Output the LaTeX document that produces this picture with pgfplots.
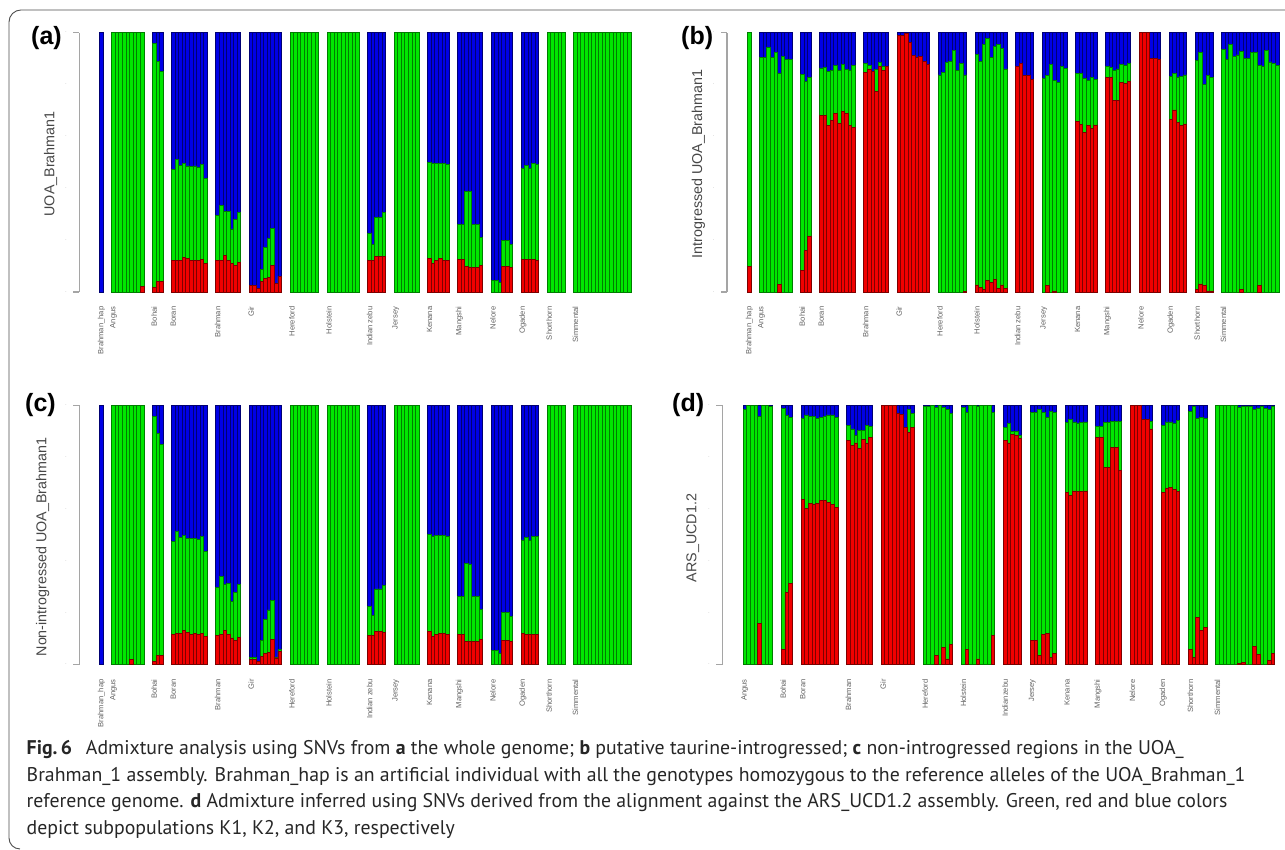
\documentclass[border=0pt]{standalone}
\usepackage{fontspec}
\usepackage{pgfplots}
\usepackage{pgfplotstable}
\pgfplotsset{compat=1.18}
\setmainfont{Liberation Sans}
\newfontfamily\capf{PT Sans}
\definecolor{rd}{RGB}{240,0,0}\definecolor{rdd}{RGB}{125,0,0}
\definecolor{gn}{RGB}{0,230,0}\definecolor{gnd}{RGB}{0,125,0}
\definecolor{bl}{RGB}{0,0,230}\definecolor{bld}{RGB}{0,0,115}
\definecolor{spine}{RGB}{165,165,165}
% each table: grp = group number, r = top of red, g = top of green (blue fills up to 1)
\pgfplotstableread[row sep=\\]{grp r g \\
0 0 0 \\
1 0 1 \\ 1 0 1 \\ 1 0 1 \\ 1 0 1 \\ 1 0 1 \\ 1 0 1 \\ 1 0 1 \\ 1 0 1 \\ 1 .02 1 \\
2 .018 .96 \\ 2 .04 .89 \\ 2 .04 .85 \\
3 .12 .474 \\ 3 .123 .51 \\ 3 .123 .488 \\ 3 .134 .494 \\ 3 .128 .486 \\ 3 .123 .484 \\ 3 .122 .486 \\ 3 .123 .482 \\ 3 .126 .492 \\ 3 .11 .436 \\
4 .12 .294 \\ 4 .123 .335 \\ 4 .139 .31 \\ 4 .123 .311 \\ 4 .11 .243 \\ 4 .104 .278 \\ 4 .114 .306 \\
5 .026 .026 \\ 5 .026 .026 \\ 5 .015 .015 \\ 5 .04 .087 \\ 5 .053 .172 \\ 5 .057 .208 \\ 5 .103 .244 \\ 5 .033 .033 \\ 5 .06 .06 \\
6 0 1 \\ 6 0 1 \\ 6 0 1 \\ 6 0 1 \\ 6 0 1 \\ 6 0 1 \\ 6 0 1 \\ 6 0 1 \\
7 0 1 \\ 7 0 1 \\ 7 0 1 \\ 7 0 1 \\ 7 0 1 \\ 7 0 1 \\ 7 0 1 \\ 7 0 1 \\ 7 0 1 \\
8 .122 .225 \\ 8 .122 .185 \\ 8 .138 .289 \\ 8 .138 .289 \\ 8 .138 .306 \\
9 0 1 \\ 9 0 1 \\ 9 0 1 \\ 9 0 1 \\ 9 0 1 \\ 9 0 1 \\ 9 0 1 \\
10 .131 .499 \\ 10 .11 .494 \\ 10 .123 .495 \\ 10 .129 .497 \\ 10 .123 .497 \\ 10 .123 .492 \\
11 .125 .261 \\ 11 .125 .261 \\ 11 .098 .388 \\ 11 .096 .386 \\ 11 .096 .262 \\ 11 .096 .262 \\ 11 .103 .212 \\
12 0 .045 \\ 12 0 .045 \\ 12 0 .035 \\ 12 .1 .197 \\ 12 .1 .197 \\ 12 .096 .184 \\
13 .126 .478 \\ 13 .126 .487 \\ 13 .125 .477 \\ 13 .125 .494 \\ 13 .123 .492 \\
14 0 1 \\ 14 0 1 \\ 14 0 1 \\ 14 0 1 \\ 14 0 1 \\
15 0 1 \\ 15 0 1 \\ 15 0 1 \\ 15 0 1 \\ 15 0 1 \\ 15 0 1 \\ 15 0 1 \\ 15 0 1 \\ 15 0 1 \\ 15 0 1 \\ 15 0 1 \\ 15 0 1 \\ 15 0 1 \\ 15 0 1 \\ 15 0 1 \\ 15 0 1 \\
}\tabA
\pgfplotstableread[row sep=\\]{grp r g \\
0 .1 1 \\
1 0 .904 \\ 1 0 .906 \\ 1 0 .943 \\ 1 0 .904 \\ 1 0 .925 \\ 1 .03 .841 \\ 1 0 .907 \\ 1 0 .896 \\ 1 0 .896 \\
2 .082 .838 \\ 2 .159 .812 \\ 2 .216 .829 \\
3 .679 .864 \\ 3 .679 .865 \\ 3 .641 .852 \\ 3 .662 .856 \\ 3 .689 .873 \\ 3 .65 .853 \\ 3 .695 .878 \\ 3 .69 .857 \\ 3 .643 .856 \\ 3 .634 .875 \\
4 .846 .88 \\ 4 .86 .874 \\ 4 .85 .85 \\ 4 .774 .859 \\ 4 .871 .884 \\ 4 .856 .87 \\ 4 .868 .868 \\
5 .99 .99 \\ 5 .991 .991 \\ 5 .997 .997 \\ 5 .964 .964 \\ 5 .911 .911 \\ 5 .904 .904 \\ 5 .91 .91 \\ 5 .888 .888 \\ 5 .879 .879 \\
6 0 .837 \\ 6 0 .848 \\ 6 0 .886 \\ 6 0 .888 \\ 6 0 .933 \\ 6 0 .856 \\ 6 0 .88 \\ 6 .002 .837 \\
7 .027 .916 \\ 7 .018 .888 \\ 7 .008 .956 \\ 7 .045 .977 \\ 7 .035 .905 \\ 7 .049 .946 \\ 7 .014 .956 \\ 7 .027 .94 \\ 7 .015 .86 \\
8 .868 .868 \\ 8 .883 .883 \\ 8 .834 .834 \\ 8 .834 .834 \\ 8 .819 .819 \\
9 0 .823 \\ 9 .026 .835 \\ 9 0 .878 \\ 9 .004 .815 \\ 9 0 .807 \\ 9 0 .868 \\ 9 0 .861 \\
10 .658 .842 \\ 10 .647 .843 \\ 10 .614 .825 \\ 10 .643 .817 \\ 10 .632 .829 \\ 10 .644 .821 \\
11 .829 .869 \\ 11 .828 .866 \\ 11 .737 .855 \\ 11 .739 .86 \\ 11 .808 .879 \\ 11 .805 .875 \\ 11 .812 .883 \\
12 1 1 \\ 12 1 1 \\ 12 1 1 \\ 12 .901 .901 \\ 12 .901 .901 \\ 12 .895 .895 \\
13 .666 .83 \\ 13 .702 .842 \\ 13 .654 .828 \\ 13 .643 .832 \\ 13 .648 .837 \\
14 .008 .892 \\ 14 .031 .923 \\ 14 .026 .802 \\ 14 .004 .834 \\ 14 .004 .828 \\
15 0 .937 \\ 15 0 .895 \\ 15 0 .955 \\ 15 0 .907 \\ 15 0 .914 \\ 15 .008 .929 \\ 15 0 .901 \\ 15 0 .899 \\ 15 0 .922 \\ 15 0 .924 \\ 15 .026 .873 \\ 15 0 .87 \\ 15 0 .931 \\ 15 0 .887 \\ 15 0 .88 \\ 15 0 .873 \\
}\tabB
\pgfplotstableread[row sep=\\]{grp r g \\
0 0 0 \\
1 0 1 \\ 1 0 1 \\ 1 0 1 \\ 1 0 1 \\ 1 0 1 \\ 1 .02 1 \\ 1 0 1 \\ 1 0 1 \\ 1 0 1 \\
2 .014 .959 \\ 2 .036 .891 \\ 2 .036 .851 \\
3 .117 .476 \\ 3 .121 .515 \\ 3 .12 .491 \\ 3 .131 .497 \\ 3 .125 .488 \\ 3 .118 .487 \\ 3 .121 .487 \\ 3 .118 .482 \\ 3 .121 .495 \\ 3 .109 .436 \\
4 .112 .296 \\ 4 .117 .339 \\ 4 .131 .311 \\ 4 .118 .312 \\ 4 .103 .243 \\ 4 .095 .279 \\ 4 .105 .31 \\
5 .021 .028 \\ 5 .021 .028 \\ 5 .013 .013 \\ 5 .033 .093 \\ 5 .044 .175 \\ 5 .048 .211 \\ 5 .096 .248 \\ 5 .026 .028 \\ 5 .051 .057 \\
6 0 1 \\ 6 0 1 \\ 6 0 1 \\ 6 0 1 \\ 6 0 1 \\ 6 0 1 \\ 6 0 1 \\ 6 0 1 \\
7 0 1 \\ 7 0 1 \\ 7 0 1 \\ 7 0 1 \\ 7 0 1 \\ 7 0 1 \\ 7 0 1 \\ 7 0 1 \\ 7 0 1 \\
8 .114 .226 \\ 8 .114 .188 \\ 8 .129 .292 \\ 8 .129 .292 \\ 8 .126 .307 \\
9 0 1 \\ 9 0 1 \\ 9 0 1 \\ 9 0 1 \\ 9 0 1 \\ 9 0 1 \\ 9 0 1 \\
10 .127 .504 \\ 10 .107 .496 \\ 10 .118 .497 \\ 10 .122 .5 \\ 10 .121 .5 \\ 10 .118 .495 \\
11 .118 .263 \\ 11 .118 .263 \\ 11 .091 .391 \\ 11 .09 .388 \\ 11 .089 .263 \\ 11 .089 .263 \\ 11 .096 .213 \\
12 0 .055 \\ 12 0 .055 \\ 12 0 .045 \\ 12 .093 .2 \\ 12 .093 .2 \\ 12 .089 .186 \\
13 .121 .481 \\ 13 .118 .491 \\ 13 .118 .479 \\ 13 .118 .496 \\ 13 .118 .496 \\
14 0 1 \\ 14 0 1 \\ 14 0 1 \\ 14 0 1 \\ 14 0 1 \\
15 0 1 \\ 15 0 1 \\ 15 0 1 \\ 15 0 1 \\ 15 0 1 \\ 15 0 1 \\ 15 0 1 \\ 15 0 1 \\ 15 0 1 \\ 15 0 1 \\ 15 0 1 \\ 15 0 1 \\ 15 0 1 \\ 15 0 1 \\ 15 0 1 \\ 15 0 1 \\
}\tabC
\pgfplotstableread[row sep=\\]{grp r g \\
0 0 .985 \\ 0 0 1 \\ 0 0 1 \\ 0 0 1 \\ 0 .16 .958 \\ 0 0 1 \\ 0 0 1 \\ 0 0 .994 \\
1 .057 .987 \\ 1 .28 .96 \\ 1 .314 .952 \\
2 .636 .951 \\ 2 .602 .963 \\ 2 .622 .958 \\ 2 .618 .956 \\ 2 .623 .951 \\ 2 .632 .952 \\ 2 .635 .958 \\ 2 .627 .963 \\ 2 .618 .963 \\ 2 .607 .954 \\
3 .866 .923 \\ 3 .847 .909 \\ 3 .855 .883 \\ 3 .833 .903 \\ 3 .867 .902 \\ 3 .852 .921 \\ 3 .875 .919 \\
4 1 1 \\ 4 1 1 \\ 4 1 1 \\ 4 1 1 \\ 4 .967 .967 \\ 4 .964 .964 \\ 4 .916 .916 \\ 4 .896 .986 \\ 4 .916 .968 \\
5 0 .997 \\ 5 0 .996 \\ 5 0 1 \\ 5 .035 .992 \\ 5 0 .999 \\ 5 .067 .991 \\ 5 .022 .986 \\ 5 .079 .97 \\
6 0 .993 \\ 6 .057 .974 \\ 6 0 1 \\ 6 0 1 \\ 6 .022 .996 \\ 6 0 1 \\ 6 0 1 \\ 6 0 1 \\ 6 .113 .974 \\
7 .866 .916 \\ 7 .855 .932 \\ 7 .887 .901 \\ 7 .885 .901 \\ 7 .871 .883 \\
8 .095 .972 \\ 8 .095 .972 \\ 8 .037 .983 \\ 8 .117 .972 \\ 8 .121 .955 \\ 8 .028 .978 \\ 8 .044 .974 \\
9 .665 .934 \\ 9 .652 .945 \\ 9 .67 .936 \\ 9 .669 .932 \\ 9 .669 .934 \\ 9 .67 .936 \\
10 .875 .919 \\ 10 .875 .919 \\ 10 .762 .933 \\ 10 .762 .933 \\ 10 .839 .938 \\ 10 .839 .938 \\ 10 .748 .938 \\
11 1 1 \\ 11 1 1 \\ 11 1 1 \\ 11 .946 .946 \\ 11 .946 .946 \\ 11 .909 .938 \\
12 .665 .923 \\ 12 .681 .936 \\ 12 .685 .936 \\ 12 .674 .929 \\ 12 .668 .943 \\
13 .06 .977 \\ 13 .027 .995 \\ 13 .181 .949 \\ 13 .131 .952 \\ 13 .144 .951 \\
14 0 1 \\ 14 0 1 \\ 14 0 1 \\ 14 0 1 \\ 14 0 1 \\ 14 0 1 \\ 14 .005 .991 \\ 14 .01 .994 \\ 14 0 .997 \\ 14 0 .997 \\ 14 .072 .983 \\ 14 .041 .99 \\ 14 0 .997 \\ 14 0 .987 \\ 14 .015 .986 \\ 14 .045 .994 \\
}\tabD
\pgfplotsset{adm/.style={
  scale only axis, y=259.3pt, ymin=0, ymax=1, clip=false,
  axis y line*=left, axis x line*=bottom,
  x axis line style={draw=none},
  y axis line style={draw=spine,line width=1.1pt},
  xtick style={draw=none}, ytick style={draw=none},
  tick align=outside, major tick length=0pt,
  xticklabel style={rotate=90,anchor=east,inner sep=0pt,xshift=-14.5pt,font=\fontsize{7.6}{8}\selectfont,text=black!62},
  ytick={0,.2,.4,.6,.8,1},
  yticklabels={$\cdot$,$\cdot$,$\cdot$,$\cdot$,$\cdot$,$\cdot$},
  yticklabel style={inner sep=0pt,xshift=-12pt,text=black!55,font=\tiny},
  extra y ticks={0,1}, extra y tick labels={},
  extra y tick style={major tick length=6pt,ytick style={draw=spine,line width=1.1pt}},
  every axis plot/.append style={ybar,bar width=1,bar shift=0pt,line width=.9pt},
}}
\newcommand\bars[2]{%
  \addplot[fill=bl,draw=none] table[x expr=\coordindex+#2*\thisrow{grp},y expr=1] {#1};
  \addplot[fill=none,draw=bld] table[x expr=\coordindex+#2*\thisrow{grp},y expr=1] {#1};
  \addplot[fill=gn,draw=none,restrict y to domain=0.001:2] table[x expr=\coordindex+#2*\thisrow{grp},y=g] {#1};
  \addplot[fill=none,draw=gnd,restrict y to domain=0.001:2] table[x expr=\coordindex+#2*\thisrow{grp},y=g] {#1};
  \addplot[fill=rd,draw=none,restrict y to domain=0.001:2] table[x expr=\coordindex+#2*\thisrow{grp},y=r] {#1};
  \addplot[fill=none,draw=rdd,restrict y to domain=0.001:2] table[x expr=\coordindex+#2*\thisrow{grp},y=r] {#1};
}
\begin{document}
\begin{tikzpicture}[x=1pt,y=1pt]
\path[use as bounding box] (0,0) rectangle (1285,850);
\draw[black!70,line width=.9pt] (1285,840) -- (21,840) arc[start angle=90,end angle=180,radius=12] -- (9,12) arc[start angle=180,end angle=270,radius=11] ;
\begin{axis}[adm,at={(79.3pt,558pt)},anchor=south west,x=3.58pt,xmin=-6.2,xmax=147.9,xtick={0,3.36,14.72,20.08,32.44,41.8,53.16,63.52,74.88,82.24,91.6,99.96,109.32,117.68,125.04,132.4},xticklabels={Brahman\_hap,Angus,Bohai,Boran,Brahman,Gir,Hereford,Holstein,Indian zebu,Jersey,Kenana,Mangshi,Nelore,Ogaden,Shorthorn,Simmental}]
\bars{\tabA}{2.36}
\end{axis}
\begin{axis}[adm,at={(727pt,558pt)},anchor=south west,x=3.58pt,xmin=-6.28,xmax=147.9,xtick={0,3.36,14.72,20.08,32.44,41.8,53.16,63.52,74.88,82.24,91.6,99.96,109.32,117.68,125.04,132.4},xticklabels={Brahman\_hap,Angus,Bohai,Boran,Brahman,Gir,Hereford,Holstein,Indian zebu,Jersey,Kenana,Mangshi,Nelore,Ogaden,Shorthorn,Simmental}]
\bars{\tabB}{2.36}
\end{axis}
\begin{axis}[adm,at={(79.3pt,185.3pt)},anchor=south west,x=3.58pt,xmin=-6.2,xmax=147.9,xtick={0,3.36,14.72,20.08,32.44,41.8,53.16,63.52,74.88,82.24,91.6,99.96,109.32,117.68,125.04,132.4},xticklabels={Brahman\_hap,Angus,Bohai,Boran,Brahman,Gir,Hereford,Holstein,Indian zebu,Jersey,Kenana,Mangshi,Nelore,Ogaden,Shorthorn,Simmental}]
\bars{\tabC}{2.36}
\end{axis}
\begin{axis}[adm,at={(722.3pt,185.3pt)},anchor=south west,x=3.7pt,xmin=-6.1,xmax=143.23,
 xtick={0,10.34,15.68,28.01,37.35,48.69,59.03,70.37,77.7,87.04,95.38,104.72,113.06,120.39,127.73},
 xticklabels={Angus,Bohai,Boran,Brahman,Gir,Hereford,Holstein,Indianzebu,Jersey,Kenana,Mangshi,Nelore,Ogaden,Shorthorn,Simmental}]
\bars{\tabD}{2.338}
\end{axis}
\tikzset{yl/.style={rotate=90,text=black!72,font=\fontsize{14.3}{16}\selectfont,inner sep=0pt},
 pl/.style={font=\fontsize{25}{28}\selectfont\bfseries,text=black,inner sep=0pt,anchor=west},
 cp/.style={anchor=base west,inner sep=0pt,text=black!85,font=\capf\fontsize{19.8}{22}\selectfont}}
\node[yl] at (50.5,686) {UOA\_Brahman1};
\node[yl] at (698.3,686) {Introgressed UOA\_Brahman1};
\node[yl] at (42.7,303) {Non-introgressed UOA\_Brahman1};
\node[yl] at (692.7,312) {ARS\_UCD1.2};
\node[pl] at (31,812) {(a)};
\node[pl] at (681,812) {(b)};
\node[pl] at (25,445) {(c)};
\node[pl] at (672,445) {(d)};
\node[cp] at (26.5,95) {\textbf{Fig.\,6}\hspace{.7em}Admixture analysis using SNVs from \textbf{a} the whole genome; \textbf{b} putative taurine-introgressed; \textbf{c} non-introgressed regions in the UOA\_};
\node[cp] at (26.5,68.3) {Brahman\_1 assembly. Brahman\_hap is an artificial individual with all the genotypes homozygous to the reference alleles of the UOA\_Brahman\_1};
\node[cp] at (26.5,42) {reference genome. \textbf{d} Admixture inferred using SNVs derived from the alignment against the ARS\_UCD1.2 assembly. Green, red and blue colors};
\node[cp] at (26.5,15.5) {depict subpopulations K1, K2, and K3, respectively};
\end{tikzpicture}
\end{document}
